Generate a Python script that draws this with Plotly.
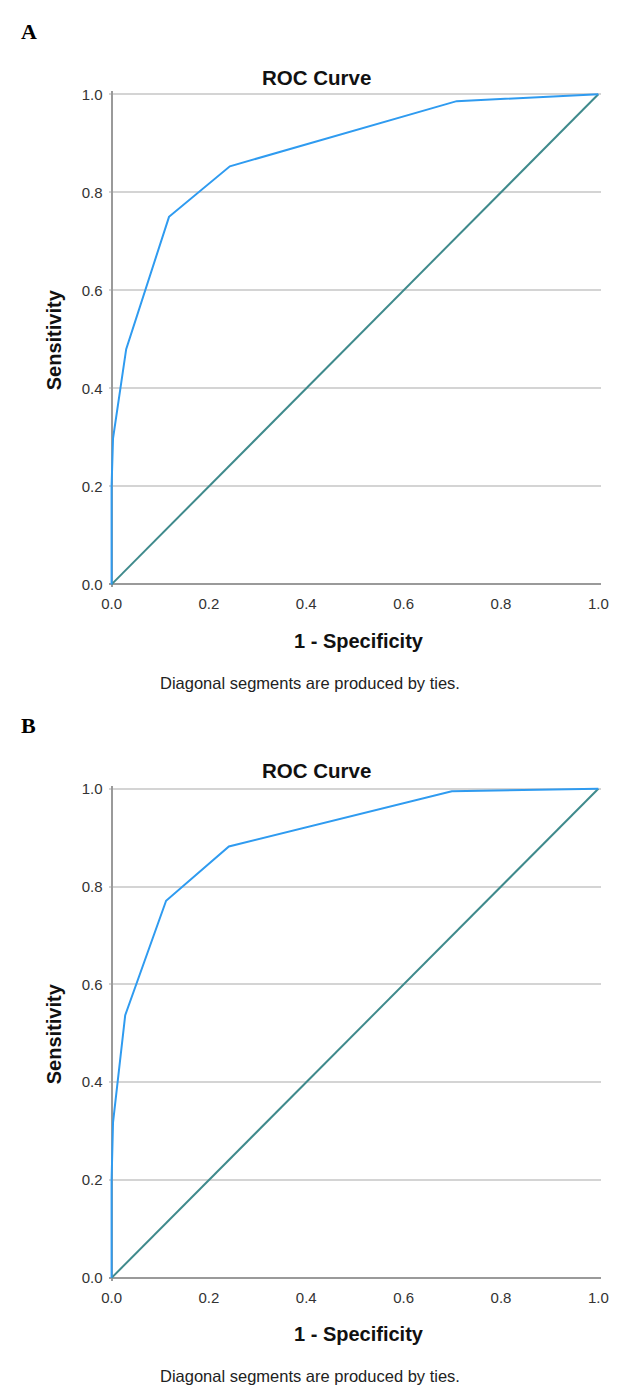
import plotly.graph_objects as go

# ---------------- data ----------------
tick_vals = [0.0, 0.2, 0.4, 0.6, 0.8, 1.0]
tick_text = ["0.0", "0.2", "0.4", "0.6", "0.8", "1.0"]

# Panel A ROC curve (1 - Specificity, Sensitivity)
a_fpr = [0.0, 0.0, 0.003, 0.030, 0.118, 0.243, 0.709, 1.0]
a_tpr = [0.0, 0.200, 0.298, 0.480, 0.750, 0.853, 0.986, 1.0]

# Panel B ROC curve
b_fpr = [0.0, 0.0, 0.003, 0.028, 0.112, 0.241, 0.699, 1.0]
b_tpr = [0.0, 0.200, 0.318, 0.537, 0.771, 0.882, 0.995, 1.0]

# Reference (chance) line
ref_x = [0.0, 1.0]
ref_y = [0.0, 1.0]

panel_labels = ["A", "B"]
chart_title = "ROC Curve"
x_title = "1 - Specificity"
y_title = "Sensitivity"
note_text = "Diagonal segments are produced by ties."

# ---------------- layout helpers ----------------
W, H = 619, 1390
FONT = "Liberation Sans, Arial, sans-serif"
CURVE_COLOR = "#2f9bf0"
REF_COLOR = "#3f8a8c"
AXIS_COLOR = "#9a9a9a"
GRID_COLOR = "#d4d4d4"


def fx_(p):  # page x pixel -> paper fraction
    return p / W


def fy_(p):  # page y pixel -> paper fraction
    return 1 - p / H


X0, X1 = 107, 605           # pixel x of 0 and 1
PAD = 3                     # pixels of padding around data range
panels = [
    {"y0": 583, "y1": 89, "off": 0},
    {"y0": 1282, "y1": 789, "off": 699},
]

fig = go.Figure()

series = [(a_fpr, a_tpr), (b_fpr, b_tpr)]
annotations = []
layout_axes = {}

for i, (p, (sx, sy)) in enumerate(zip(panels, series)):
    xs = "x" if i == 0 else f"x{i+1}"
    ys = "y" if i == 0 else f"y{i+1}"
    xname = "xaxis" if i == 0 else f"xaxis{i+1}"
    yname = "yaxis" if i == 0 else f"yaxis{i+1}"

    fig.add_trace(go.Scatter(x=ref_x, y=ref_y, mode="lines",
                             line=dict(color=REF_COLOR, width=2),
                             xaxis=xs, yaxis=ys, showlegend=False,
                             hoverinfo="skip"))
    fig.add_trace(go.Scatter(x=sx, y=sy, mode="lines",
                             line=dict(color=CURVE_COLOR, width=2),
                             xaxis=xs, yaxis=ys, showlegend=False))

    xw = X1 - X0
    yh = p["y0"] - p["y1"]
    layout_axes[xname] = dict(
        domain=[fx_(X0 - PAD), fx_(X1 + PAD)],
        range=[-PAD / xw, 1 + PAD / xw],
        anchor=ys, showgrid=False, showline=False,
        zeroline=True, zerolinecolor=AXIS_COLOR, zerolinewidth=2,
        tickmode="array", tickvals=tick_vals, ticktext=tick_text,
        ticks="", ticklabelstandoff=6,
        tickfont=dict(family=FONT, size=15, color="#333333"),
        fixedrange=True,
    )
    layout_axes[yname] = dict(
        domain=[fy_(p["y0"] + PAD), fy_(p["y1"] - PAD)],
        range=[-PAD / yh, 1 + PAD / yh],
        anchor=xs, showgrid=True, gridcolor=GRID_COLOR, gridwidth=2,
        showline=False,
        zeroline=True, zerolinecolor=AXIS_COLOR, zerolinewidth=2,
        tickmode="array", tickvals=tick_vals, ticktext=tick_text,
        ticks="", ticklabelstandoff=5,
        tickfont=dict(family=FONT, size=15, color="#333333"),
        fixedrange=True,
    )

    off = p["off"]
    # panel letter
    annotations.append(dict(text=f"<b>{panel_labels[i]}</b>", x=fx_(12),
                            y=fy_(26 + off), xref="paper", yref="paper",
                            xanchor="left", yanchor="middle", showarrow=False,
                            font=dict(family="Liberation Serif, Times New Roman, serif",
                                      size=22, color="#000000")))
    # chart title
    annotations.append(dict(text=f"<b>{chart_title}</b>", x=fx_(317),
                            y=fy_(72 + off), xref="paper", yref="paper",
                            xanchor="center", yanchor="middle", showarrow=False,
                            font=dict(family=FONT, size=20.5, color="#111111")))
    # x axis title
    annotations.append(dict(text=f"<b>{x_title}</b>", x=fx_(360),
                            y=fy_(640 + off), xref="paper", yref="paper",
                            xanchor="center", yanchor="middle", showarrow=False,
                            font=dict(family=FONT, size=20, color="#111111")))
    # y axis title
    annotations.append(dict(text=f"<b>{y_title}</b>", x=fx_(48),
                            y=fy_((p["y0"] + p["y1"]) / 2),
                            xref="paper", yref="paper", textangle=-90,
                            xanchor="center", yanchor="middle", showarrow=False,
                            font=dict(family=FONT, size=20, color="#111111")))
    # note
    annotations.append(dict(text=note_text, x=fx_(310),
                            y=fy_(682 + off), xref="paper", yref="paper",
                            xanchor="center", yanchor="middle", showarrow=False,
                            font=dict(family=FONT, size=16.5, color="#222222")))

fig.update_layout(
    width=W, height=H,
    margin=dict(l=0, r=0, t=0, b=0),
    paper_bgcolor="white", plot_bgcolor="white",
    annotations=annotations,
    hovermode=False,
    **layout_axes,
)

# remove the default page margin so the figure fills the 619x1390 window
fig.write_html("out.html",
               config={"displayModeBar": False, "staticPlot": True},
               post_script="document.body.style.margin='0';"
                           "document.body.style.overflow='hidden';")
